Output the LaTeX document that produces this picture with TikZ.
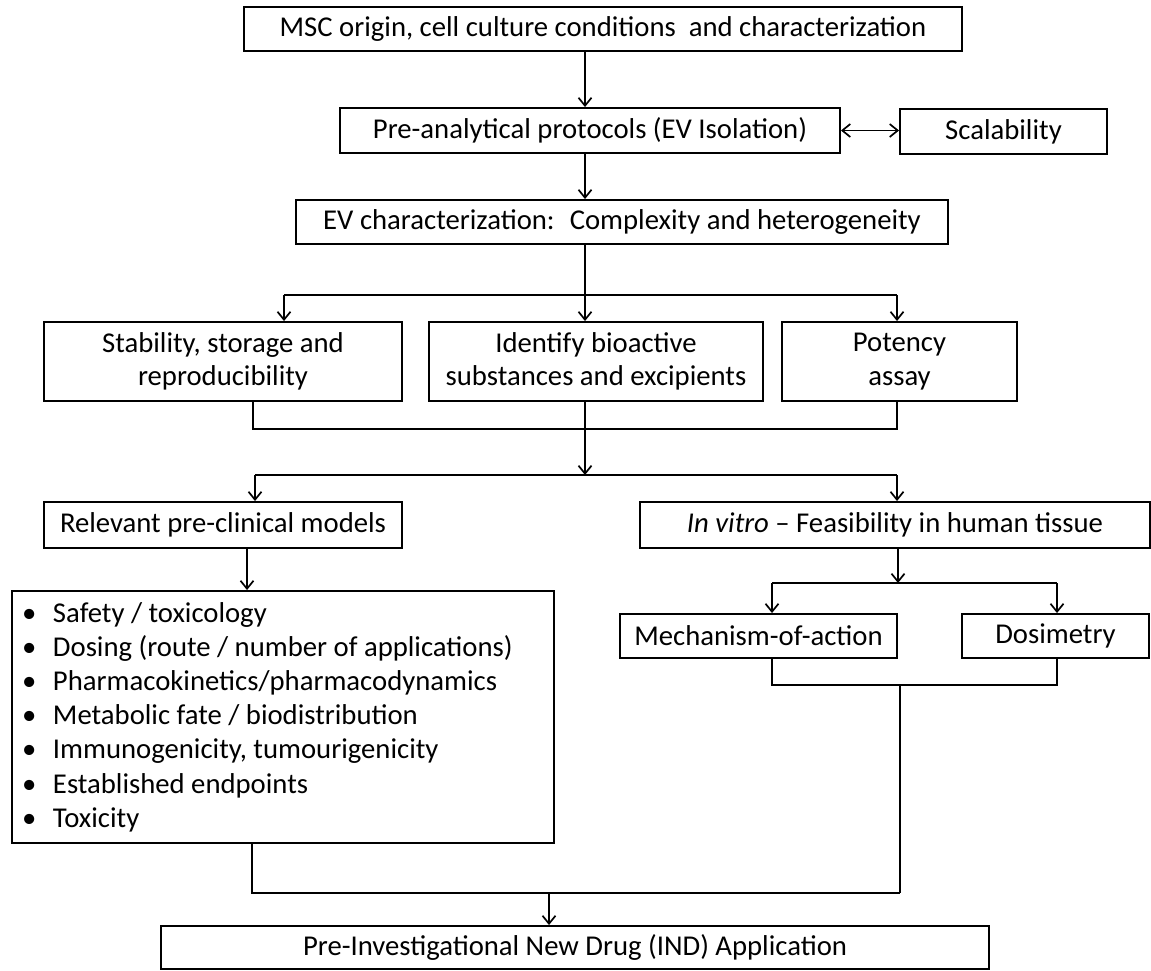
\documentclass[tikz,border=0pt]{standalone}
\usepackage{fontspec}
\setmainfont{Carlito}
\usetikzlibrary{arrows.meta}
\begin{document}
\begin{tikzpicture}[x=1pt,y=-1pt,
  box/.style={draw=black, line width=1.9pt, fill=white, inner sep=0pt, align=center,
    font=\fontsize{28.7}{33.5}\selectfont},
  conn/.style={line width=1.7pt},
  arr/.style={line width=1.7pt, -{Straight Barb[length=8pt,width=13pt]}},
  darr/.style={line width=1.7pt, {Straight Barb[length=8pt,width=13pt]}-{Straight Barb[length=8pt,width=13pt]}},
]
\useasboundingbox[fill=white] (0,0) rectangle (1151,970);

% boxes
\node[box, minimum width=718pt, minimum height=44pt] (b1) at (603,29) {MSC origin, cell culture conditions~ and characterization};
\node[box, minimum width=500pt, minimum height=45pt] (b2) at (590,130.5) {Pre-analytical protocols (EV Isolation)};
\node[box, minimum width=207pt, minimum height=45pt] (scal) at (1003.5,131.5) {Scalability};
\node[box, minimum width=652pt, minimum height=44pt] (b3) at (622,222) {EV characterization:~ Complexity and heterogeneity};
\node[box, minimum width=358pt, minimum height=79pt] (stab) at (223,361.5) {Stability, storage and\\reproducibility};
\node[box, minimum width=334pt, minimum height=79pt] (ident) at (596,361.5) {Identify bioactive\\substances and excipients};
\node[box, minimum width=235pt, minimum height=79pt] (pot) at (899.5,361.5) {Potency\\assay};
\node[box, minimum width=358pt, minimum height=46pt] (rel) at (223,525) {Relevant pre-clinical models};
\node[box, minimum width=510pt, minimum height=46pt] (inv) at (895,525) {\textit{In vitro} -- Feasibility in human tissue};
\node[box, minimum width=277pt, minimum height=44pt] (mech) at (758.5,636) {Mechanism-of-action};
\node[box, minimum width=187pt, minimum height=44pt] (dos) at (1055.5,636) {Dosimetry};
\node[box, minimum width=542pt, minimum height=252pt, text width=522pt, align=flush left, inner xsep=10pt,
  font=\fontsize{28.7}{34.2}\selectfont] (bul) at (283,717)
{\makebox[31pt][l]{\textbullet}Safety / toxicology\\
 \makebox[31pt][l]{\textbullet}Dosing (route / number of applications)\\
 \makebox[31pt][l]{\textbullet}Pharmacokinetics/pharmacodynamics\\
 \makebox[31pt][l]{\textbullet}Metabolic fate / biodistribution\\
 \makebox[31pt][l]{\textbullet}Immunogenicity, tumourigenicity\\
 \makebox[31pt][l]{\textbullet}Established endpoints\\
 \makebox[31pt][l]{\textbullet}Toxicity};
\node[box, minimum width=828pt, minimum height=43pt] (ind) at (575,947.5) {Pre-Investigational New Drug (IND) Application};

% junction coordinates
\coordinate (xm) at (585,0);
\coordinate (j1l) at (284,295);
\coordinate (j1r) at (897,295);
\coordinate (j2l) at (253,429);
\coordinate (j2r) at (897,429);
\coordinate (j3m) at (585,475);
\coordinate (j3l) at (255,475);
\coordinate (j3r) at (897,475);
\coordinate (xrb) at (247,0);
\coordinate (j4m) at (898,583);
\coordinate (j4l) at (772,583);
\coordinate (j4r) at (1057,583);
\coordinate (j5l) at (772,685);
\coordinate (j5r) at (1057,685);
\coordinate (j5m) at (900,685);
\coordinate (j6r) at (900,893);
\coordinate (j6l) at (252,893);
\coordinate (j6m) at (549,893);

% connectors
\draw[arr] (b1.south -| xm) -- (b2.north -| xm);
\draw[darr] (b2.east) -- (b2.east -| scal.west);
\draw[arr] (b2.south -| xm) -- (b3.north -| xm);
\draw[arr] (b3.south -| xm) -- (ident.north -| xm);
\draw[conn] (j1l) -- (j1r);
\draw[arr] (j1l) -- (stab.north -| j1l);
\draw[arr] (j1r) -- (pot.north -| j1r);

\draw[conn] (stab.south -| j2l) -- (j2l) -- (j2r) -- (pot.south -| j2r);
\draw[arr] (ident.south -| xm) -- (j3m);
\draw[conn] (j3l) -- (j3r);
\draw[arr] (j3l) -- (rel.north -| j3l);
\draw[arr] (j3r) -- (inv.north -| j3r);

\draw[arr] (rel.south -| xrb) -- (bul.north -| xrb);
\draw[arr] (inv.south -| j4m) -- (j4m);
\draw[conn] (j4l) -- (j4r);
\draw[arr] (j4l) -- (mech.north -| j4l);
\draw[arr] (j4r) -- (dos.north -| j4r);

\draw[conn] (mech.south -| j5l) -- (j5l) -- (j5r) -- (dos.south -| j5r);
\draw[conn] (j5m) -- (j6r);
\draw[conn] (bul.south -| j6l) -- (j6l) -- (j6r);
\draw[arr] (j6m) -- (ind.north -| j6m);
\end{tikzpicture}
\end{document}
